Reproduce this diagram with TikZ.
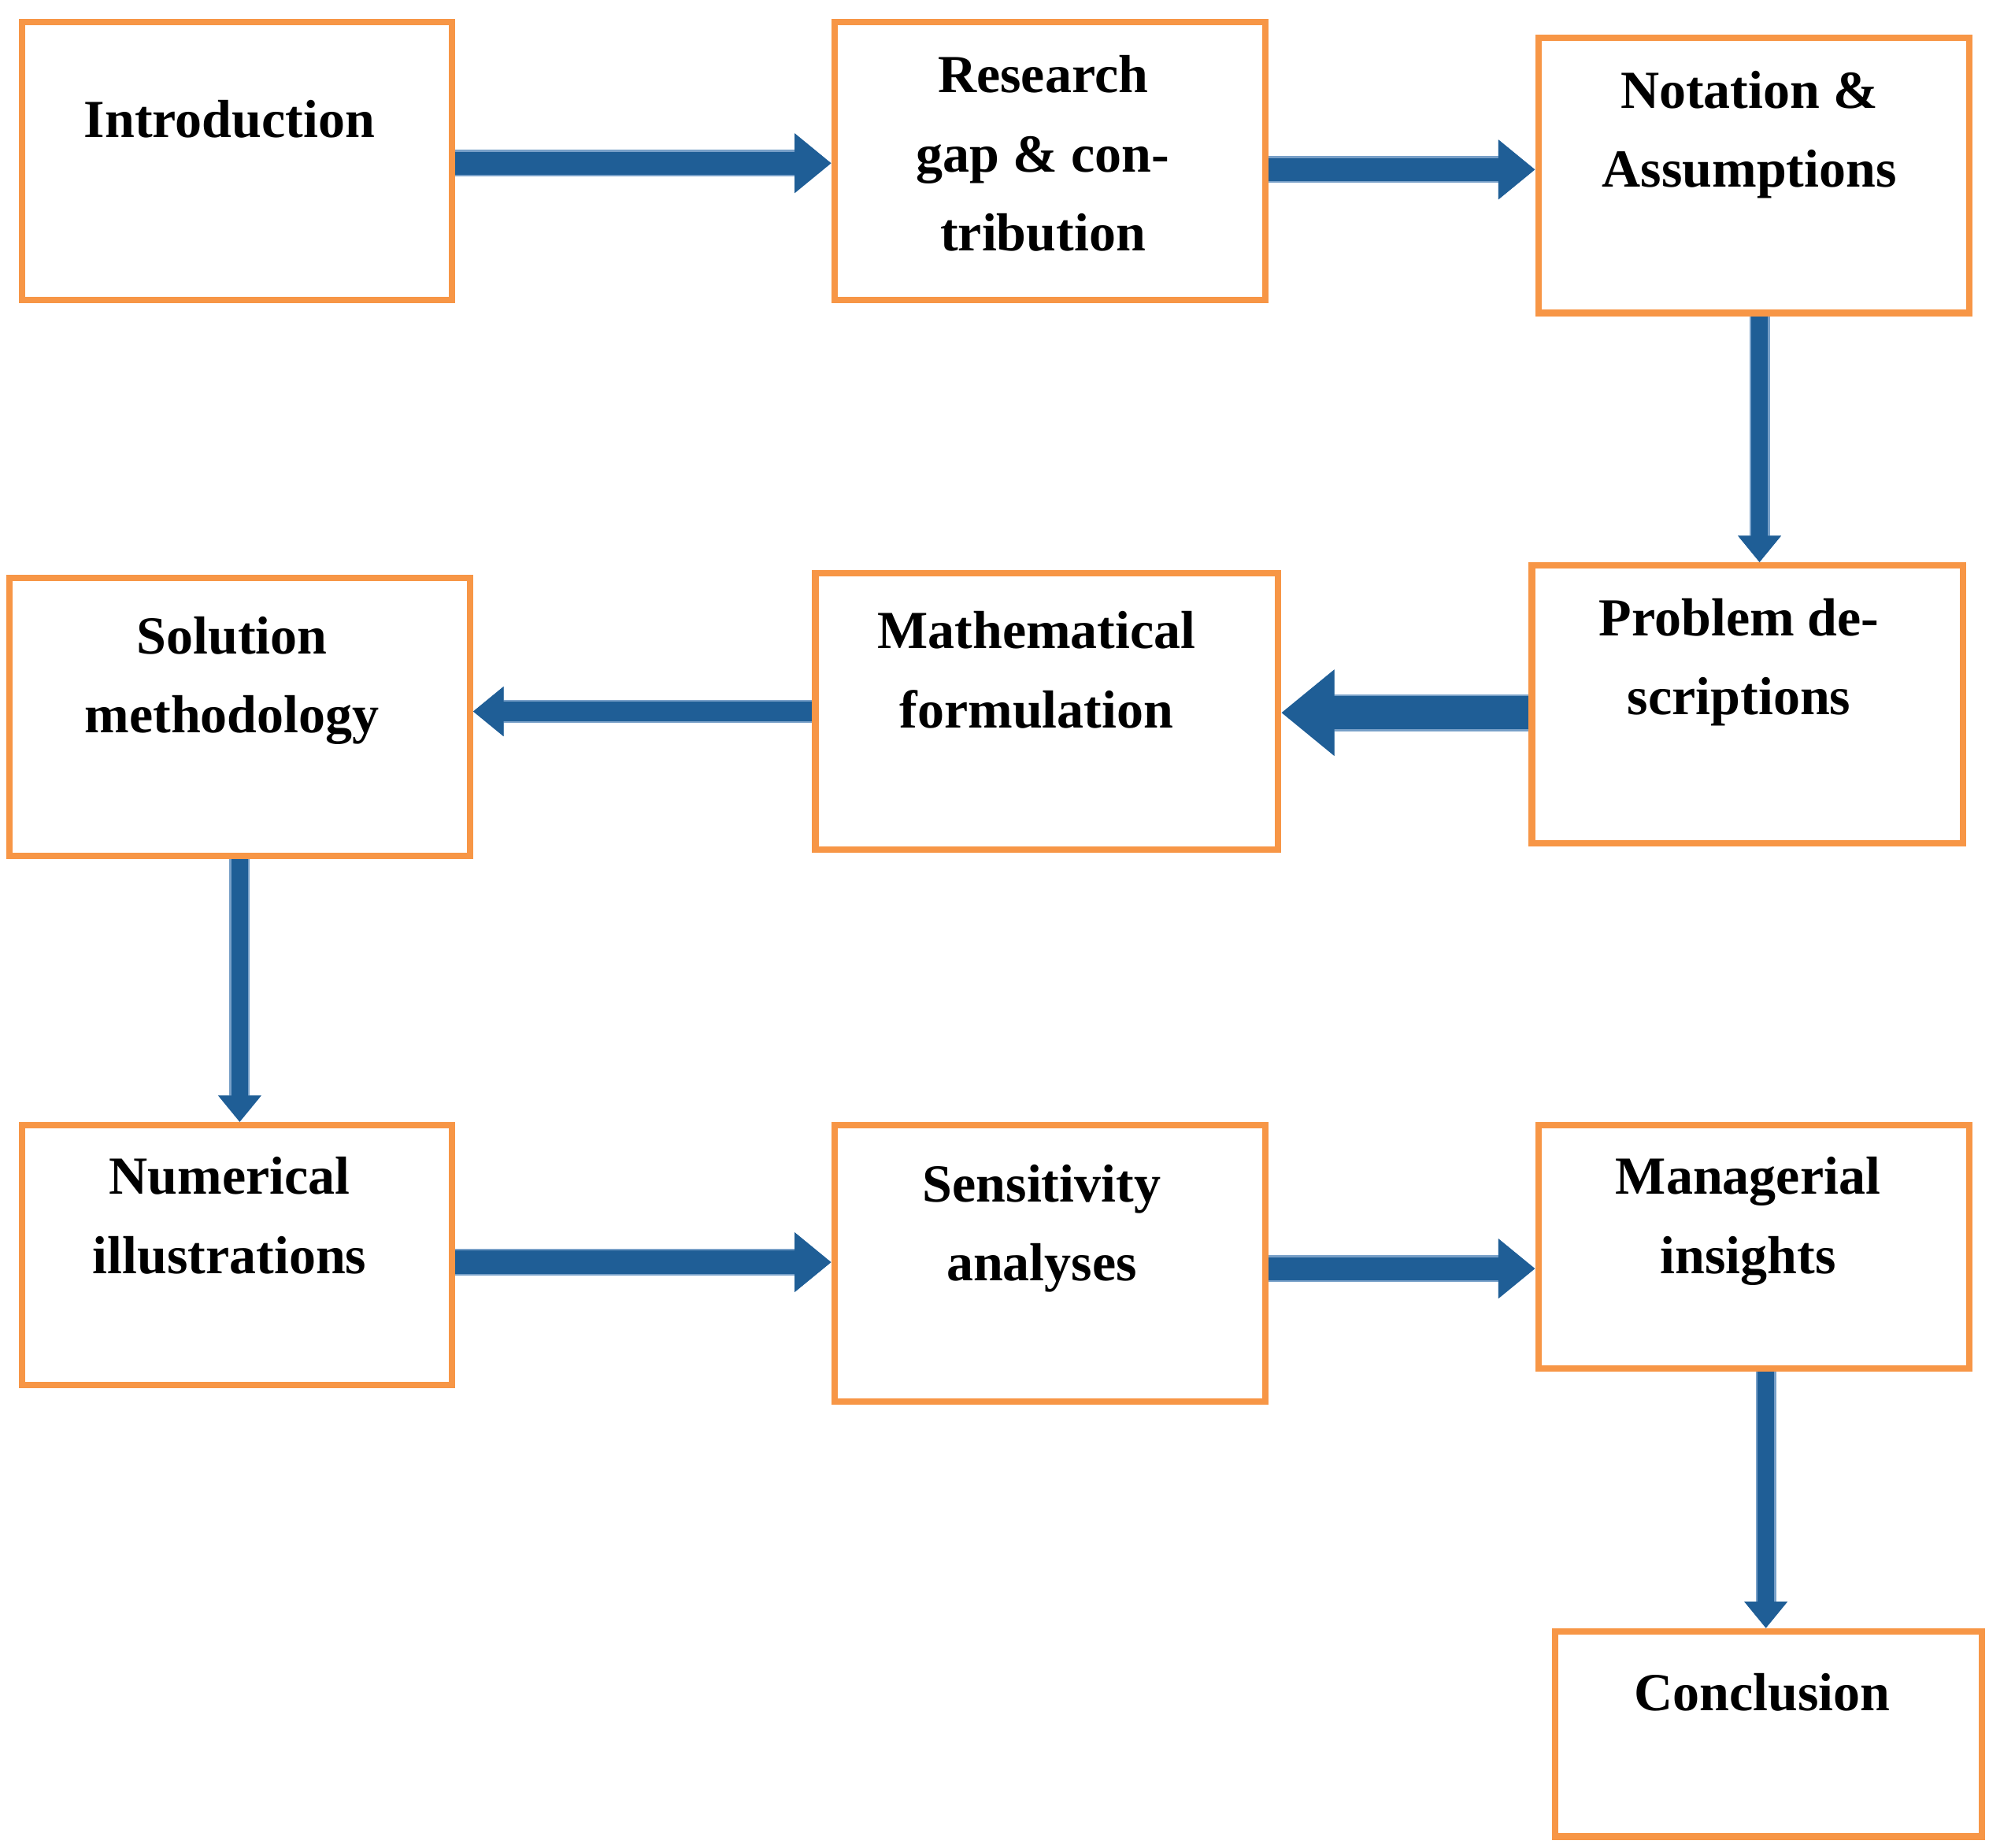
\documentclass[tikz,border=0pt]{standalone}
\usepackage{fontspec}
\setmainfont{Liberation Serif}
\usetikzlibrary{arrows.meta}
\definecolor{bor}{RGB}{247,150,70}
\definecolor{arr}{RGB}{31,94,150}
\definecolor{arrl}{RGB}{120,160,200}
\begin{document}
\begin{tikzpicture}[x=1pt,y=-1pt,
 box/.style={draw=bor,line width=5pt,inner sep=0,anchor=north west},
 txt/.style={align=center,font=\fontsize{42}{62}\selectfont\bfseries,anchor=north},
 blk/.style={draw=arr,line width=#1,-{Triangle[width=2.5*#1,length=1.6*#1]},preaction={draw=arrl,line width=#1+3pt}}]
\useasboundingbox (0,0) rectangle (1560,1449);
\node[box,minimum width=337,minimum height=218] (intro) at (15,15) {};
\node[box,minimum width=338,minimum height=218] (res) at (652,15) {};
\node[box,minimum width=338,minimum height=216] (nota) at (1204,27) {};
\node[box,minimum width=338,minimum height=218] (prob) at (1199,441) {};
\node[box,minimum width=363,minimum height=217] (math) at (637,447) {};
\node[box,minimum width=361,minimum height=218] (sol) at (5,451) {};
\node[box,minimum width=337,minimum height=204] (num) at (15,880) {};
\node[box,minimum width=338,minimum height=217] (sens) at (652,880) {};
\node[box,minimum width=338,minimum height=191] (man) at (1204,880) {};
\node[box,minimum width=335,minimum height=161] (conc) at (1217,1277) {};
\node[txt] (t1) at (180,75) {Introduction};
\node[txt] (t2) at (818,40) {Research\\gap \& con-\\tribution};
\node[txt] (t3) at (1372,52) {Notation \&\\Assumptions};
\node[txt] (t4) at (1364,466) {Problem de-\\scriptions};
\node[txt] (t5) at (813,476) {Mathematical\\formulation};
\node[txt] (t6) at (182,480) {Solution\\methodology};
\node[txt] (t7) at (180,904) {Numerical\\illustrations};
\node[txt] (t8) at (817,910) {Sensitivity\\analyses};
\node[txt] (t9) at (1371,904) {Managerial\\insights};
\node[txt] (t10) at (1382,1309) {Conclusion};
\draw[blk=18pt] (intro.east |- 0,128) -- (res.west |- 0,128);
\draw[blk=18pt] (res.east |- 0,133) -- (nota.west |- 0,133);
\draw[blk=13pt] (nota.south -| 1380,0) -- (prob.north -| 1380,0);
\draw[blk=26pt] (prob.west |- 0,559) -- (math.east |- 0,559);
\draw[blk=15pt] (math.west |- 0,558) -- (sol.east |- 0,558);
\draw[blk=13pt] (sol.south -| 188,0) -- (num.north -| 188,0);
\draw[blk=18pt] (num.east |- 0,990) -- (sens.west |- 0,990);
\draw[blk=18pt] (sens.east |- 0,995) -- (man.west |- 0,995);
\draw[blk=13pt] (man.south -| 1385,0) -- (conc.north -| 1385,0);
\end{tikzpicture}
\end{document}
